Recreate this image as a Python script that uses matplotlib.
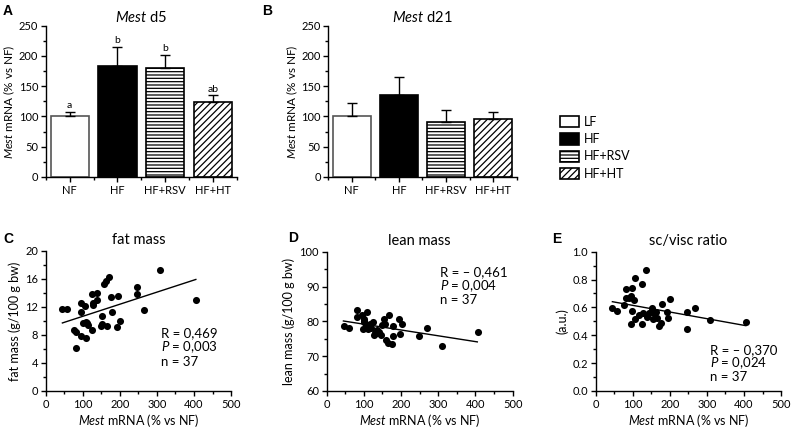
import numpy as np
import matplotlib
matplotlib.use("Agg")
import matplotlib.pyplot as plt
from matplotlib.ticker import MultipleLocator
from matplotlib.patches import Patch

plt.rcParams['font.family'] = ['Lato', 'DejaVu Sans']
plt.rcParams['mathtext.fontset'] = 'custom'
plt.rcParams['mathtext.rm'] = 'Lato'
plt.rcParams['mathtext.it'] = 'Lato:italic'
plt.rcParams['hatch.linewidth'] = 0.9
plt.rcParams['axes.linewidth'] = 1.0

# --- Data ---
groups = ['NF', 'HF', 'HF+RSV', 'HF+HT']
legend_names = ['LF', 'HF', 'HF+RSV', 'HF+HT']
d5_mean = [100, 183, 180, 124]
d5_err = [8, 32, 22, 11]
d5_letters = ['a', 'b', 'b', 'ab']
d21_mean = [100, 135, 91, 96]
d21_err = [23, 30, 19, 12]

mest_C = [43, 57, 94, 96, 106, 77, 82, 96, 108, 81, 100, 112, 115, 126, 124, 139, 138, 127, 128,
          156, 163, 172, 176, 194, 178, 153, 148, 153, 165, 201, 193, 247, 247, 265, 307, 406, 110]
fat = [11.7, 11.7, 12.5, 11.2, 12.1, 8.7, 8.4, 7.8, 7.5, 6.2, 9.7, 9.7, 9.4, 8.7, 13.8, 13.9, 13.0, 12.5, 12.2,
       15.3, 15.7, 16.2, 13.4, 13.5, 11.3, 10.7, 9.3, 9.6, 9.3, 10.0, 9.1, 14.8, 13.8, 11.6, 17.3, 12.9, 9.9]

mest_D = [47, 59, 82, 81, 94, 109, 99, 101, 105, 97, 110, 116, 125, 130, 136, 142, 136, 148, 154,
          157, 168, 159, 166, 175, 179, 179, 194, 203, 197, 249, 269, 309, 408, 100, 120, 145, 128]
lean = [78.7, 78.2, 83.3, 81.3, 81.8, 82.6, 80.7, 79.7, 78.9, 77.8, 77.8, 79.2, 79.7, 76.6, 77.5, 77.0, 76.6,
        78.9, 80.7, 79.1, 81.8, 74.6, 73.9, 73.4, 75.9, 78.7, 80.7, 79.1, 76.3, 75.9, 78.2, 73.0, 77.0,
        80.0, 78.0, 76.2, 76.2]

mest_E = [45, 57, 77, 81, 82, 97, 94, 91, 104, 99, 106, 95, 106, 117, 124, 126, 128, 137, 139,
          151, 150, 156, 154, 162, 165, 171, 176, 178, 193, 196, 201, 247, 247, 267, 308, 405, 145]
ratio = [0.593, 0.574, 0.617, 0.665, 0.732, 0.742, 0.684, 0.665, 0.653, 0.577, 0.813, 0.478, 0.517,
         0.545, 0.483, 0.770, 0.557, 0.866, 0.533, 0.593, 0.569, 0.557, 0.517, 0.569, 0.526, 0.467,
         0.486, 0.622, 0.569, 0.526, 0.660, 0.569, 0.445, 0.593, 0.507, 0.498, 0.560]

# regression lines (x ends, y ends)
fit_x = [45, 405]
fit_C = [9.7, 15.9]
fit_D = [80.1, 74.1]
fit_E = [0.641, 0.469]

stats_C = ['R = 0,469', '$P$ = 0,003', 'n = 37']
stats_D = ['R = \u2013 0,461', '$P$ = 0,004', 'n = 37']
stats_E = ['R = \u2013 0,370', '$P$ = 0,024', 'n = 37']

bar_face = ['white', 'black', 'white', 'white']
bar_edge = ['#555555', 'black', 'black', 'black']
bar_hatch = [None, None, '-----', '/////']

fig = plt.figure(figsize=(7.91, 4.30), dpi=100)

def clean(ax):
    ax.spines['top'].set_visible(False)
    ax.spines['right'].set_visible(False)
    ax.tick_params(direction='out', length=3.5, width=1, labelsize=8, pad=2)
    ax.tick_params(which='minor', direction='out', length=2.2, width=1)

def bars(ax, mean, err, title, letters=None):
    x = np.arange(len(groups))
    for i in range(len(groups)):
        ax.bar(x[i], mean[i], width=0.8, color=bar_face[i], edgecolor=bar_edge[i],
               hatch=bar_hatch[i], linewidth=1.2, zorder=2)
    ax.errorbar(x, mean, yerr=[np.zeros(len(err)), err], fmt='none', ecolor='black',
                elinewidth=1, capsize=3.5, capthick=1, zorder=3)
    if letters:
        for i in range(len(groups)):
            ax.text(x[i], mean[i] + err[i] + 10, letters[i], ha='center', va='center', fontsize=7.5)
    ax.set_xlim(-0.5, 3.5)
    ax.set_ylim(0, 250)
    ax.yaxis.set_major_locator(MultipleLocator(50))
    ax.yaxis.set_minor_locator(MultipleLocator(25))
    ax.set_xticks(x)
    ax.set_xticklabels(groups, fontsize=7.5)
    ax.tick_params(axis='x', length=0, pad=7)
    ax.set_xticks(np.arange(-0.5, 4, 1), minor=True)
    ax.tick_params(axis='x', which='minor', length=3)
    ax.set_ylabel('$Mest$ mRNA (% vs NF)', fontsize=8.5, labelpad=1)
    ax.set_title(title, fontsize=10.5, pad=3)
    clean(ax)

def scatter(ax, xs, ys, fy, ylim, major, minor, ylabel, title, stats, sx, sy):
    ax.scatter(xs, ys, s=26, color='black', zorder=3, linewidths=0)
    ax.plot(fit_x, fy, color='black', lw=1)
    ax.set_xlim(0, 500)
    ax.set_ylim(*ylim)
    ax.xaxis.set_major_locator(MultipleLocator(100))
    ax.xaxis.set_minor_locator(MultipleLocator(50))
    ax.yaxis.set_major_locator(MultipleLocator(major))
    ax.yaxis.set_minor_locator(MultipleLocator(minor))
    ax.set_xlabel('$Mest$ mRNA (% vs NF)', fontsize=9, labelpad=2)
    ax.set_ylabel(ylabel, fontsize=9, labelpad=3)
    ax.set_title(title, fontsize=10.5, pad=5)
    for k, s in enumerate(stats):
        ax.text(sx, sy[k], s, fontsize=9.5, ha='left', va='center')
    clean(ax)

axA = fig.add_axes([0.0578, 0.5884, 0.2418, 0.3519])
bars(axA, d5_mean, d5_err, '$Mest$ d5', d5_letters)
axB = fig.add_axes([0.415, 0.5884, 0.2382, 0.3519])
bars(axB, d21_mean, d21_err, '$Mest$ d21')

# legend
handles = [Patch(facecolor=bar_face[i], edgecolor='black', hatch=bar_hatch[i], linewidth=1.2)
           for i in range(4)]
fig.legend(handles, legend_names, loc='upper left', bbox_to_anchor=(0.702, 0.742), frameon=False,
           fontsize=9, handlelength=1.5, handleheight=1.0, handletextpad=0.35, labelspacing=0.42,
           borderaxespad=0)

axC = fig.add_axes([0.0578, 0.0907, 0.2343, 0.3263])
scatter(axC, mest_C, fat, fit_C, (0, 20), 4, 2, 'fat mass (g/100 g bw)', 'fat mass',
        stats_C, 311, [8.3, 6.3, 4.2])
axD = fig.add_axes([0.413, 0.0907, 0.2351, 0.324])
scatter(axD, mest_D, lean, fit_D, (60, 100), 10, 5, 'lean mass (g/100 g bw)', 'lean mass',
        stats_D, 305, [94.0, 90.2, 86.1])
axE = fig.add_axes([0.7531, 0.0907, 0.2343, 0.324])
scatter(axE, mest_E, ratio, fit_E, (0, 1.0), 0.2, 0.1, '(a.u.)', 'sc/visc ratio',
        stats_E, 308, [0.294, 0.20, 0.10])
axE.yaxis.set_major_formatter(plt.FormatStrFormatter('%.1f'))

# panel letters
for lab, px, py in [('A', 3, 4), ('B', 262, 4), ('C', 3, 232), ('D', 288, 231), ('E', 552, 232)]:
    fig.text(px / 791, 1 - py / 430, lab, fontsize=10, fontweight='bold', ha='left', va='top',
             family=['Liberation Sans', 'DejaVu Sans'])

fig.savefig('out.png', dpi=100)
